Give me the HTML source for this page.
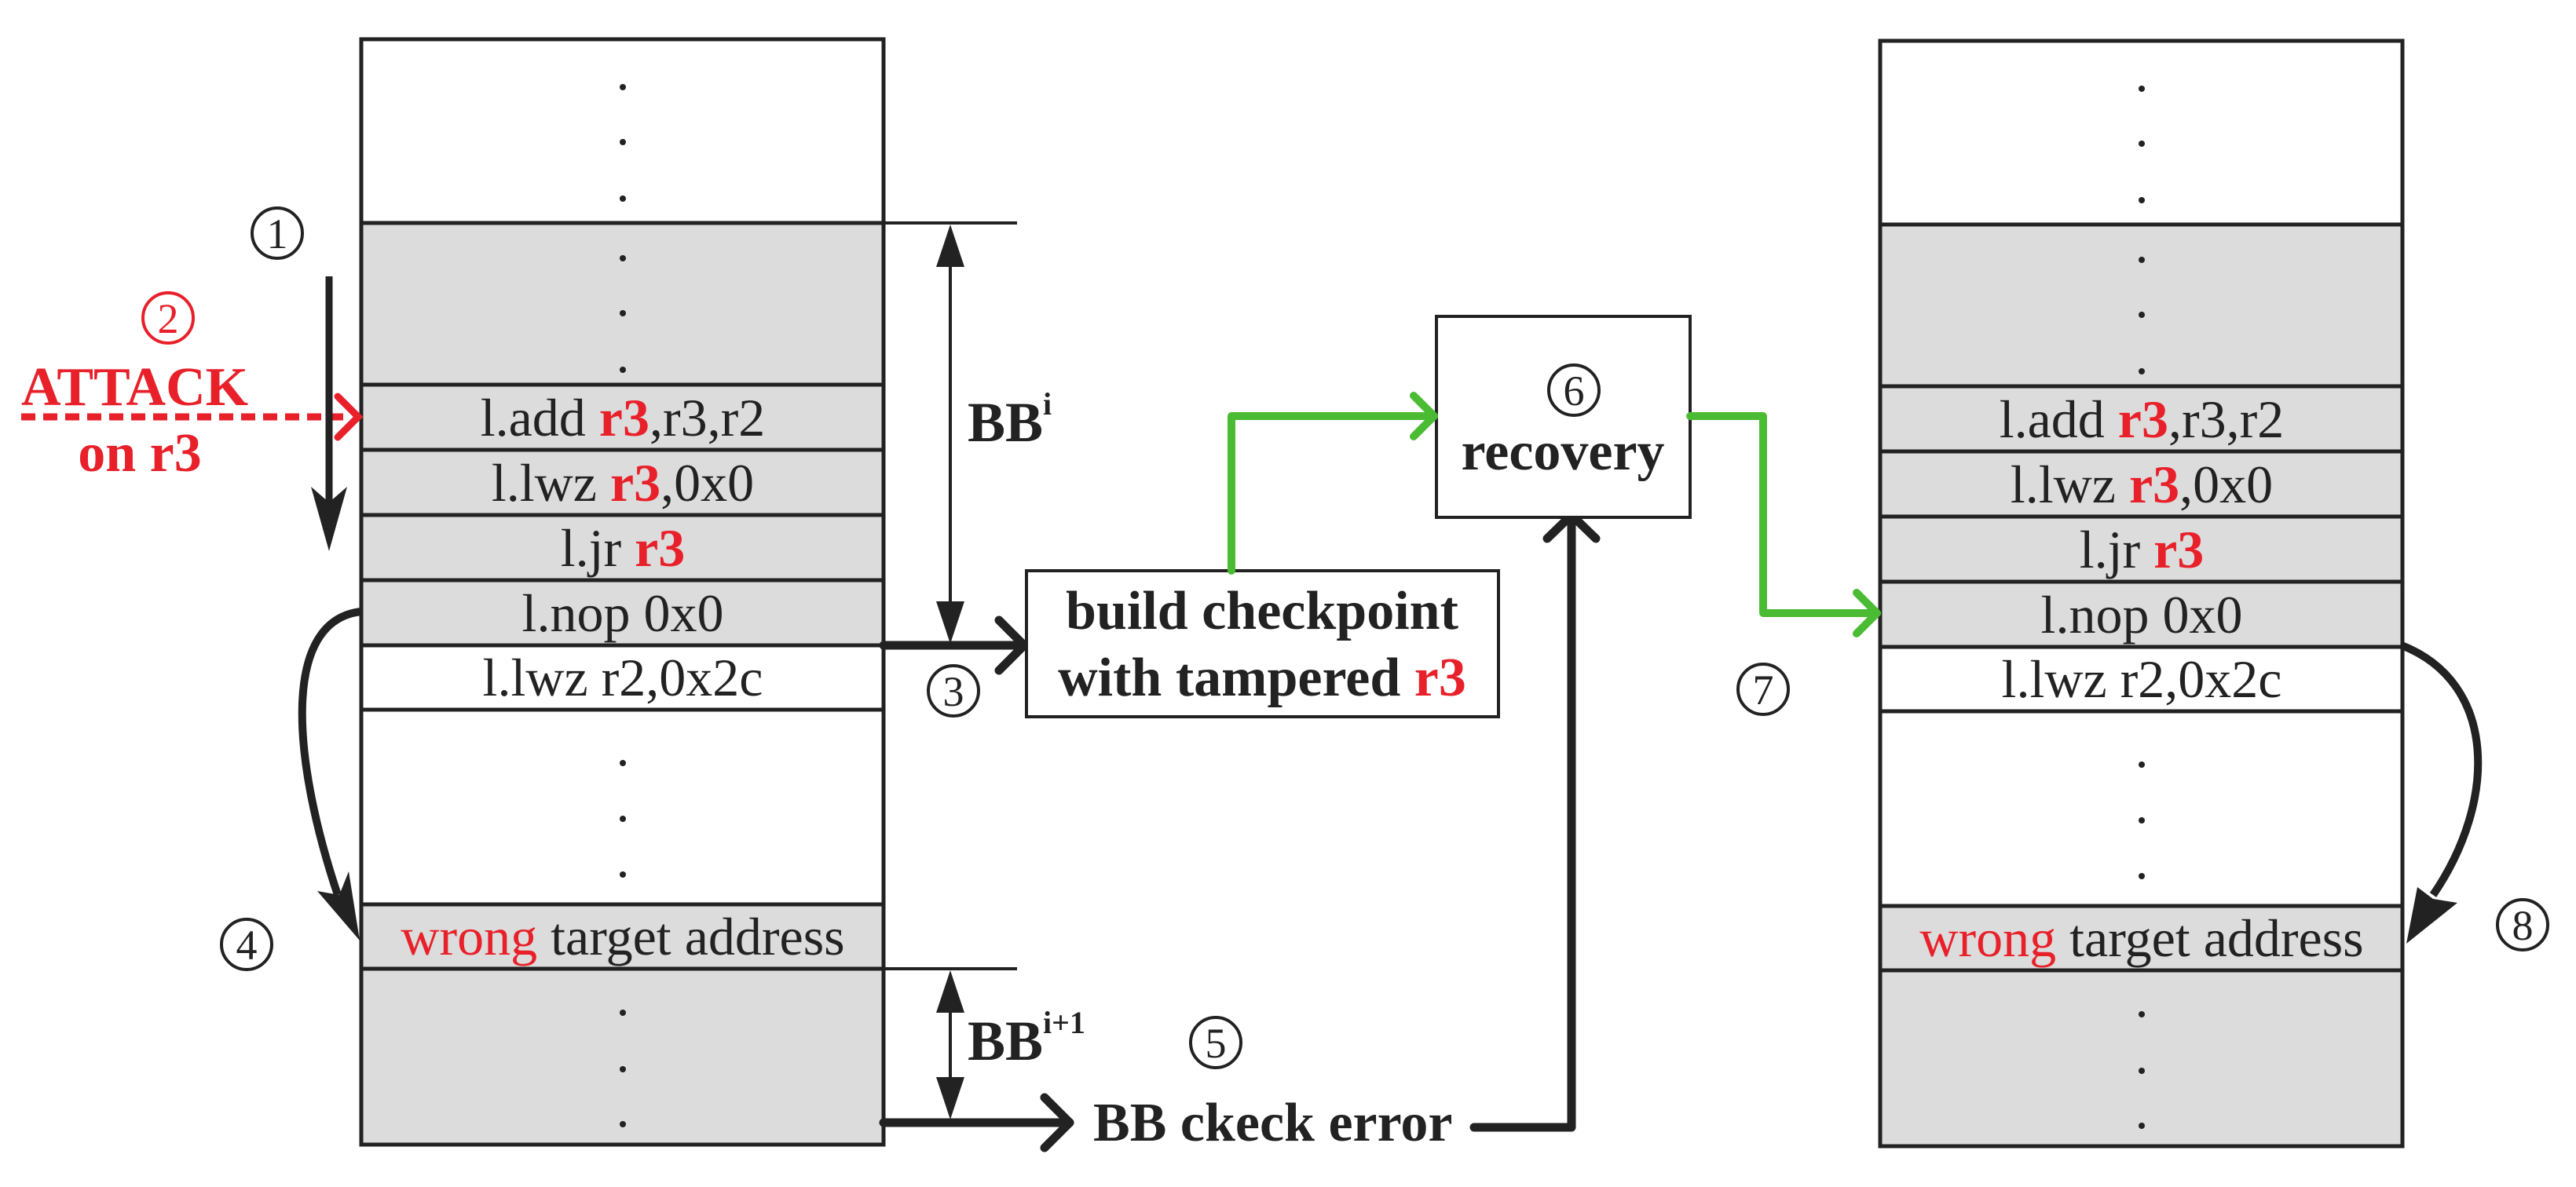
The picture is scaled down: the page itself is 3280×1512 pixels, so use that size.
<!DOCTYPE html>
<html><head><meta charset="utf-8"><style>html,body{margin:0;padding:0;background:#fff}svg{display:block}svg,svg text{font-family:"Liberation Serif","Times New Roman",serif}</style></head>
<body>
<svg width="3280" height="1512" viewBox="0 0 3280 1512" xmlns="http://www.w3.org/2000/svg">
<defs>
<g id="col">
  <rect x="0" y="50" width="665" height="1408" fill="#fff"/>
  <rect x="0" y="284" width="665" height="538" fill="#dcdcdc"/>
  <rect x="0" y="1152" width="665" height="306" fill="#dcdcdc"/>
  <g stroke="#222" stroke-width="5" fill="none">
    <rect x="0" y="50" width="665" height="1408"/>
    <line x1="0" y1="284" x2="665" y2="284"/>
    <line x1="0" y1="490" x2="665" y2="490"/>
    <line x1="0" y1="573" x2="665" y2="573"/>
    <line x1="0" y1="656" x2="665" y2="656"/>
    <line x1="0" y1="739" x2="665" y2="739"/>
    <line x1="0" y1="822" x2="665" y2="822"/>
    <line x1="0" y1="904" x2="665" y2="904"/>
    <line x1="0" y1="1152" x2="665" y2="1152"/>
    <line x1="0" y1="1234" x2="665" y2="1234"/>
  </g>
  <g fill="#222">
    <circle cx="333" cy="111" r="4"/><circle cx="333" cy="181" r="4"/><circle cx="333" cy="253" r="4"/>
    <circle cx="333" cy="329" r="4"/><circle cx="333" cy="399" r="4"/><circle cx="333" cy="471" r="4"/>
    <circle cx="333" cy="972" r="4"/><circle cx="333" cy="1043" r="4"/><circle cx="333" cy="1114" r="4"/>
    <circle cx="333" cy="1290" r="4"/><circle cx="333" cy="1362" r="4"/><circle cx="333" cy="1432" r="4"/>
  </g>
  <g font-size="68" fill="#222" text-anchor="middle">
    <text x="333" y="555">l.add <tspan fill="#e8202a" font-weight="bold">r3</tspan>,r3,r2</text>
    <text x="333" y="638">l.lwz <tspan fill="#e8202a" font-weight="bold">r3</tspan>,0x0</text>
    <text x="333" y="721">l.jr <tspan fill="#e8202a" font-weight="bold">r3</tspan></text>
    <text x="333" y="804">l.nop 0x0</text>
    <text x="333" y="886">l.lwz r2,0x2c</text>
    <text x="333" y="1216"><tspan fill="#e8202a">wrong</tspan> target address</text>
  </g>
</g>
<g id="cc"><circle r="32" fill="none" stroke="#222" stroke-width="4"/></g>
</defs>

<use href="#col" x="460" y="0"/>
<use href="#col" x="2394" y="2"/>

<g stroke="#222" stroke-width="4" fill="none">
  <line x1="1125" y1="284" x2="1295" y2="284"/>
  <line x1="1125" y1="1234" x2="1295" y2="1234"/>
  <line x1="1210" y1="330" x2="1210" y2="780"/>
  <line x1="1210" y1="1280" x2="1210" y2="1385"/>
</g>
<g fill="#222">
  <polygon points="1210,286 1192,340 1228,340"/>
  <polygon points="1210,820 1192,766 1228,766"/>
  <polygon points="1210,1236 1192,1290 1228,1290"/>
  <polygon points="1210,1426 1192,1372 1228,1372"/>
</g>
<g font-weight="bold" fill="#222" font-size="72">
  <text x="1232" y="562">BB<tspan font-size="40" dy="-34">i</tspan></text>
  <text x="1232" y="1350">BB<tspan font-size="40" dy="-34">i+1</tspan></text>
</g>

<g stroke="#222" stroke-width="11" fill="none" stroke-linecap="round" stroke-linejoin="round">
  <line x1="1125" y1="822" x2="1302" y2="822"/>
  <polyline points="1272,790 1304,822 1272,854"/>
  <line x1="1125" y1="1430" x2="1362" y2="1430"/>
  <polyline points="1330,1398 1362,1430 1330,1462"/>
  <polyline points="1877,1436 2001,1436 2001,662"/>
  <polyline points="1970,686 2001,656 2032,686"/>
</g>

<rect x="1307" y="727" width="601" height="186" fill="#fff" stroke="#222" stroke-width="4"/>
<g font-weight="bold" font-size="70" fill="#222" text-anchor="middle">
  <text x="1607" y="801">build checkpoint</text>
  <text x="1607" y="886">with tampered <tspan fill="#e8202a">r3</tspan></text>
</g>
<rect x="1829" y="403" width="323" height="256" fill="#fff" stroke="#222" stroke-width="4"/>
<text x="1990" y="598" font-weight="bold" font-size="70" fill="#222" text-anchor="middle">recovery</text>
<text x="1392" y="1453" font-weight="bold" font-size="70" fill="#222">BB ckeck error</text>

<g stroke="#4cbb34" stroke-width="10" fill="none" stroke-linecap="round" stroke-linejoin="round">
  <polyline points="1568,727 1568,530 1826,530"/>
  <polyline points="1800,504 1826,530 1800,556"/>
  <polyline points="2152,530 2245,530 2245,781 2390,781"/>
  <polyline points="2364,755 2390,781 2364,807"/>
</g>

<g fill="#e8202a" font-weight="bold" font-size="70">
  <text x="27" y="516">ATTACK</text>
  <text x="178" y="600" text-anchor="middle">on r3</text>
</g>
<line x1="27" y1="531" x2="440" y2="531" stroke="#e8202a" stroke-width="9" stroke-dasharray="18,10"/>
<polyline points="430,505 456,531 430,557" stroke="#e8202a" stroke-width="9" fill="none" stroke-linecap="round"/>

<line x1="419" y1="352" x2="419" y2="650" stroke="#222" stroke-width="9"/>
<polygon points="419,702 396,620 419,640 442,620" fill="#222"/>

<path d="M460,779 C360,790 370,960 430,1140" stroke="#222" stroke-width="10" fill="none"/>
<polygon points="458,1198 404,1135 432,1140 444,1110" fill="#222"/>
<path d="M3058,822 C3180,870 3180,1020 3098,1140" stroke="#222" stroke-width="10" fill="none"/>
<polygon points="3064,1202 3078,1130 3098,1145 3129,1150" fill="#222"/>

<g font-size="54" text-anchor="middle" fill="#222">
  <use href="#cc" x="353" y="297"/><text x="353" y="316">1</text>
  <circle cx="214" cy="405" r="32" fill="none" stroke="#e8202a" stroke-width="4"/><text x="214" y="424" fill="#e8202a">2</text>
  <use href="#cc" x="1214" y="880"/><text x="1214" y="899">3</text>
  <use href="#cc" x="314" y="1203"/><text x="314" y="1222">4</text>
  <use href="#cc" x="1548" y="1328"/><text x="1548" y="1347">5</text>
  <use href="#cc" x="2004" y="497"/><text x="2004" y="516">6</text>
  <use href="#cc" x="2245" y="878"/><text x="2245" y="897">7</text>
  <use href="#cc" x="3212" y="1178"/><text x="3212" y="1197">8</text>
</g>
</svg>
</body></html>
